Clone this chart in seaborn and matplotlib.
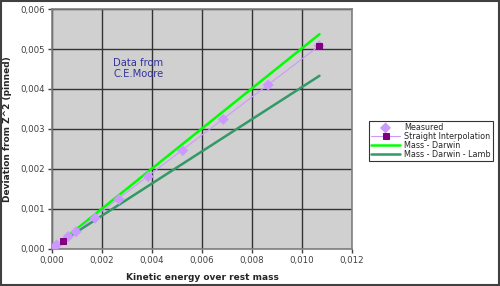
import matplotlib
matplotlib.use("Agg")
import matplotlib.pyplot as plt
import seaborn as sns
import pandas as pd
from matplotlib.ticker import FuncFormatter, MultipleLocator

sns.set_style("white")
plt.rcParams['font.family'] = ['DejaVu Sans']

measured_x = [0.0, 0.00019, 0.00065, 0.00096, 0.00172, 0.00268, 0.00385, 0.00523, 0.00685, 0.00865, 0.01069]
measured_y = [0.0, 0.0001, 0.00031, 0.00043, 0.00077, 0.00124, 0.00181, 0.00246, 0.00324, 0.0041, 0.00508]
interp_x = [0.00045, 0.01069]
interp_y = [0.00021, 0.00508]
darwin_x = [0.00045, 0.0107]
darwin_y = [0.00023, 0.00537]
lamb_x = [0.00045, 0.0107]
lamb_y = [0.00021, 0.00433]

fig = plt.figure(figsize=(5, 2.86), dpi=100)
fig.patch.set_facecolor('white')
ax = fig.add_axes([0.104, 0.1295, 0.6, 0.839])
ax.set_facecolor('#D0D0D0')

sns.scatterplot(x=measured_x, y=measured_y, marker='D', s=32, color='#CC99FF',
                edgecolor='none', ax=ax, label='Measured', zorder=3)
sns.lineplot(x=interp_x, y=interp_y, color='#CC99FF', lw=0.8, marker='s', markersize=5,
             markerfacecolor='#800080', markeredgecolor='#800080', ax=ax,
             label='Straight Interpolation', zorder=4, sort=False)
sns.lineplot(x=darwin_x, y=darwin_y, color='#00FF00', lw=1.8, ax=ax,
             label='Mass - Darwin', zorder=2, sort=False)
sns.lineplot(x=lamb_x, y=lamb_y, color='#339966', lw=1.8, ax=ax,
             label='Mass - Darwin - Lamb', zorder=2, sort=False)

ax.set_xlim(0, 0.012)
ax.set_ylim(0, 0.006)
ax.xaxis.set_major_locator(MultipleLocator(0.002))
ax.yaxis.set_major_locator(MultipleLocator(0.001))
fmt = FuncFormatter(lambda v, p: f"{v:.3f}".replace('.', ','))
ax.xaxis.set_major_formatter(fmt)
ax.yaxis.set_major_formatter(fmt)
ax.grid(True, color='#333333', lw=1.0)
ax.set_axisbelow(True)
for s in ax.spines.values():
    s.set_color('#808080')
    s.set_linewidth(1.2)
ax.tick_params(axis='both', labelsize=6.2, colors='#404040', length=3, width=1,
               direction='out', bottom=True, left=True, pad=2)

ax.set_xlabel('Kinetic energy over rest mass', fontsize=6.5, fontweight='bold', labelpad=6)
ax.set_ylabel('Deviation from Z^2 (pinned)', fontsize=6.5, fontweight='bold', labelpad=6)

ax.text(0.00345, 0.00451, 'Data from\nC.E.Moore', color='#333399', fontsize=7.2,
        ha='center', va='center', multialignment='center', linespacing=1.15)

leg = ax.legend(loc='upper left', bbox_to_anchor=(369/500, (286-121)/286),
                bbox_transform=fig.transFigure, fontsize=5.8, frameon=True,
                fancybox=False, borderpad=0.25, labelspacing=0.0, handlelength=3.6,
                handletextpad=0.5, borderaxespad=0)
leg.get_frame().set_edgecolor('black')
leg.get_frame().set_linewidth(0.8)

fig.add_artist(plt.Rectangle((0.002, 0.003), 0.996, 0.994, transform=fig.transFigure,
                             fill=False, edgecolor='#404040', lw=1.5))

fig.savefig('out.png', dpi=100)
